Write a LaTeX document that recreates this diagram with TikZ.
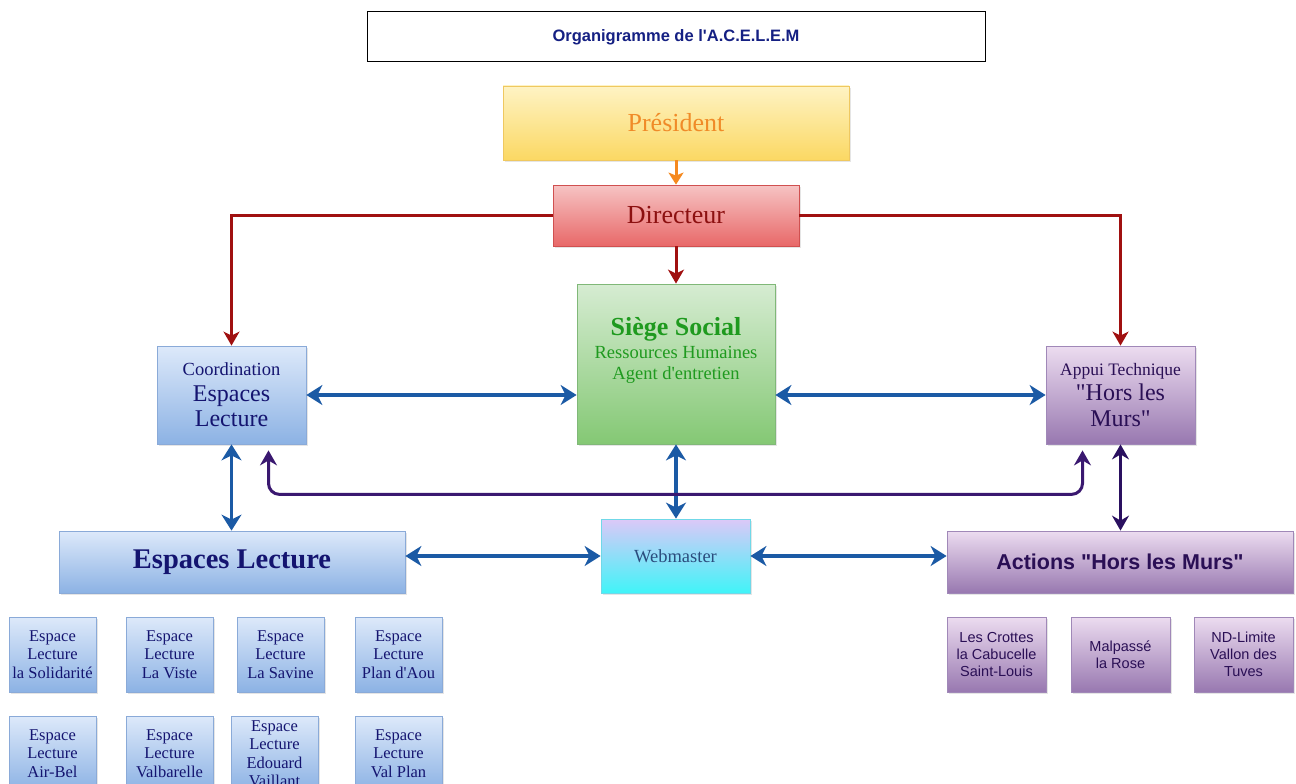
\documentclass[tikz,border=0pt]{standalone}
\usepackage{fontspec}
\setmainfont{Liberation Serif}
\setsansfont{Liberation Sans}
\usetikzlibrary{arrows.meta,shadows}
\definecolor{ttl}{HTML}{152083}
\definecolor{blueA}{HTML}{DDE9FA}\definecolor{blueB}{HTML}{8CB2E4}\definecolor{blueD}{HTML}{8AAAD8}\definecolor{blueT}{HTML}{141470}
\definecolor{purA}{HTML}{ECDCF0}\definecolor{purB}{HTML}{9878B0}\definecolor{purD}{HTML}{A088B8}\definecolor{purT}{HTML}{2A0F55}
\definecolor{yelA}{HTML}{FEF3C4}\definecolor{yelB}{HTML}{FBD863}\definecolor{yelD}{HTML}{EFC860}\definecolor{yelT}{HTML}{F08B28}
\definecolor{redA}{HTML}{F6C4C4}\definecolor{redB}{HTML}{E86868}\definecolor{redD}{HTML}{D05050}\definecolor{redT}{HTML}{8C1010}
\definecolor{grnA}{HTML}{D6ECD2}\definecolor{grnB}{HTML}{84C874}\definecolor{grnD}{HTML}{80B878}\definecolor{grnT}{HTML}{1F9A1F}
\definecolor{webA}{HTML}{DCC8F8}\definecolor{webB}{HTML}{40F4F8}\definecolor{webD}{HTML}{70D8E8}\definecolor{webT}{HTML}{2B4D7E}
\definecolor{arrB}{HTML}{1B5AA5}\definecolor{arrR}{HTML}{A01010}\definecolor{arrO}{HTML}{F5891F}
\definecolor{arrP}{HTML}{3A1870}\definecolor{arrQ}{HTML}{2A1060}
\newcommand{\dq}{\textquotedbl}
\newcommand{\sq}{\textquotesingle}
\tikzset{
  box/.style={rectangle, inner sep=0pt, align=center, line width=0.8pt, shading=axis,
    drop shadow={opacity=0.2, shadow xshift=1.5pt, shadow yshift=-1.5pt}},
  bluebox/.style={box, top color=blueA, bottom color=blueB, draw=blueD, text=blueT},
  purbox/.style={box, top color=purA, bottom color=purB, draw=purD, text=purT},
  smallb/.style={bluebox, minimum width=87pt, minimum height=75pt, font=\fontsize{16.5}{18.5}\selectfont},
  smallp/.style={purbox, minimum width=99pt, minimum height=75pt, font=\sffamily\fontsize{14.5}{17}\selectfont},
  barr/.style={draw=arrB, line width=3.2pt, {Stealth[length=16pt,width=20pt,inset=5pt]}-{Stealth[length=16pt,width=20pt,inset=5pt]}},
  rarr/.style={draw=arrR, line width=3pt, -{Stealth[length=14pt,width=16pt,inset=4pt]}},
  oarr/.style={draw=arrO, line width=3pt, -{Stealth[length=12pt,width=15pt,inset=3pt]}},
  parr/.style={draw=arrP, line width=3pt, rounded corners=11pt, {Stealth[length=15pt,width=17pt,inset=5pt]}-{Stealth[length=15pt,width=17pt,inset=5pt]}},
  qarr/.style={draw=arrQ, line width=3pt, {Stealth[length=15pt,width=17pt,inset=5pt]}-{Stealth[length=15pt,width=17pt,inset=5pt]}},
}
\begin{document}
\begin{tikzpicture}[x=1pt,y=-1pt]
\clip (0,0) rectangle (1296,784);
\fill[white] (0,0) rectangle (1296,784);
% title
\node[draw=black, line width=1pt, fill=white, minimum width=618pt, minimum height=50pt, inner sep=0pt,
  font=\sffamily\bfseries\fontsize{16.5}{18}\selectfont, text=ttl] (title) at (676,37) {Organigramme de l\sq A.C.E.L.E.M};
% top
\node[box, top color=yelA, bottom color=yelB, draw=yelD, text=yelT, minimum width=346pt, minimum height=74pt,
  font=\fontsize{26}{28}\selectfont] (pres) at (676,123) {Président};
\node[box, top color=redA, bottom color=redB, draw=redD, text=redT, minimum width=246pt, minimum height=61pt,
  font=\fontsize{26}{28}\selectfont] (dir) at (676,215.5) {Directeur};
\node[box, top color=grnA, bottom color=grnB, draw=grnD, minimum width=198pt, minimum height=160pt] (siege) at (676,364) {};
\node[text=grnT, align=center, inner sep=0pt, font=\fontsize{18.5}{21}\selectfont] (siegetxt) at (676,350)
  {{\bfseries\fontsize{26}{21}\selectfont Siège Social}\\[2pt]
   Ressources Humaines\\
   Agent d\sq entretien};
\node[bluebox, minimum width=149pt, minimum height=98pt, font=\fontsize{24}{25.5}\selectfont] (coord) at (231.5,395)
  {{\fontsize{18.5}{25.5}\selectfont Coordination}\\
   Espaces\\
   Lecture};
\node[purbox, minimum width=149pt, minimum height=98pt, font=\fontsize{24}{25.5}\selectfont] (appui) at (1120.5,395)
  {{\fontsize{17.5}{25.5}\selectfont Appui Technique}\\
   \dq Hors les\\
   Murs\dq};
% second level
\node[bluebox, minimum width=346pt, minimum height=62pt, font=\bfseries\fontsize{28.5}{30}\selectfont] (el) at (232,562) {Espaces Lecture};
\node[box, top color=webA, bottom color=webB, draw=webD, text=webT, minimum width=149pt, minimum height=74pt,
  font=\fontsize{18.5}{20}\selectfont] (web) at (675.5,556) {Webmaster};
\node[purbox, minimum width=346pt, minimum height=62pt, font=\sffamily\bfseries\fontsize{21.5}{24}\selectfont] (act) at (1120,562) {Actions \dq Hors les Murs\dq};
% small boxes
\node[smallb] (s1) at (52.5,654.5) {Espace\\Lecture\\la Solidarité};
\node[smallb] (s2) at (169.5,654.5) {Espace\\Lecture\\La Viste};
\node[smallb] (s3) at (280.5,654.5) {Espace\\Lecture\\La Savine};
\node[smallb] (s4) at (398.5,654.5) {Espace\\Lecture\\Plan d\sq Aou};
\node[smallb] (s5) at (52.5,753.5) {Espace\\Lecture\\Air-Bel};
\node[smallb] (s6) at (169.5,753.5) {Espace\\Lecture\\Valbarelle};
\node[smallb] (s7) at (274.5,753.5) {Espace\\Lecture\\Edouard\\Vaillant};
\node[smallb] (s8) at (398.5,753.5) {Espace\\Lecture\\Val Plan};
\node[smallp] (h1) at (996.5,654.5) {Les Crottes\\la Cabucelle\\Saint-Louis};
\node[smallp] (h2) at (1120.5,654.5) {Malpassé\\la Rose};
\node[smallp] (h3) at (1243.5,654.5) {ND-Limite\\Vallon des\\Tuves};
% connectors
\draw[oarr] (pres.south) -- (dir.north);
\draw[rarr] (dir.west) -| (coord.north);
\draw[rarr] (dir.east) -| (appui.north);
\draw[rarr] (dir.south) -- (siege.north);
\draw[barr] (coord.east) -- (coord.east -| siege.west);
\draw[barr] (appui.west -| siege.east) -- (appui.west);
\draw[barr] (coord.south) -- (coord.south |- el.north);
\draw[barr] (siege.south) -- (siege.south |- web.north);
\draw[barr] (web.west -| el.east) -- (web.west);
\draw[barr] (web.east) -- (web.east -| act.west);
\draw[qarr] (appui.south) -- (appui.south |- act.north);
\coordinate (pl) at ([xshift=37pt,yshift=-6pt]coord.south);
\coordinate (pr) at ([xshift=-38pt,yshift=-6pt]appui.south);
\draw[parr] (pl) -- ++(0,44) -| (pr);
\end{tikzpicture}
\end{document}
